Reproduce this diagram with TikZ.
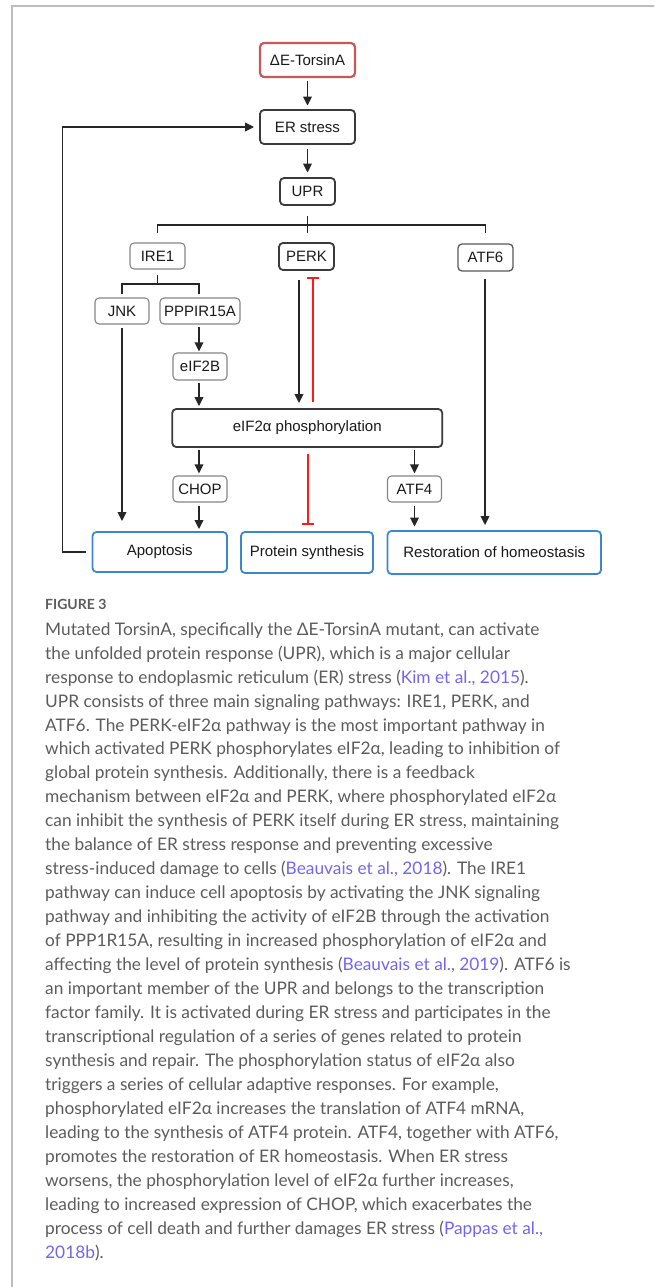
\documentclass[tikz,border=0pt]{standalone}
\usepackage{fontspec}
\usetikzlibrary{arrows.meta,calc}
\newfontfamily\diagfont{Liberation Sans}
\newfontfamily\capfont{Lato}
\definecolor{frame}{HTML}{BDBDBD}
\definecolor{boxdark}{HTML}{3A3A3A}
\definecolor{boxlight}{HTML}{858585}
\definecolor{boxred}{HTML}{C9585A}
\definecolor{boxblue}{HTML}{3B87CC}
\definecolor{inhred}{HTML}{FF1A1A}
\definecolor{captxt}{HTML}{5C5C5C}
\definecolor{caplink}{HTML}{7366F0}
\definecolor{arrcol}{HTML}{262626}
\tikzset{
  bx/.style={draw, rounded corners=4pt, inner sep=0pt, align=center,
    font=\diagfont\fontsize{15}{17}\selectfont, text=black!90},
  darkbox/.style={bx, draw=boxdark, line width=1.8pt},
  lightbox/.style={bx, draw=boxlight, line width=1.1pt},
  redbox/.style={bx, draw=boxred, line width=2.2pt},
  bluebox/.style={bx, draw=boxblue, line width=1.8pt},
  arr/.style={draw=arrcol, line width=1.8pt, -{Triangle[length=9pt,width=8.5pt]}},
  ln/.style={draw=arrcol, line width=1.8pt},
  inh/.style={draw=inhred, line width=2pt, -{Bar[width=12pt,line width=2pt]}},
  capline/.style={anchor=mid west, inner sep=0pt, text=captxt,
    font=\capfont\fontsize{17.3}{20}\selectfont},
}
\newcommand{\lk}[1]{\textcolor{caplink}{#1}}
\begin{document}
\begin{tikzpicture}[x=1pt,y=-1pt]
\useasboundingbox (0,0) rectangle (654,1287);
% frame
\draw[frame, line width=1.2pt] (12,1287) -- (12,6) -- (654,6);

% nodes
\node[redbox, minimum width=95pt, minimum height=34pt] (tor) at (307.5,60) {ΔE-TorsinA};
\node[darkbox, minimum width=95pt, minimum height=34pt] (er) at (307.5,127) {ER stress};
\node[darkbox, minimum width=55pt, minimum height=27pt] (upr) at (307.5,191.5) {UPR};
\node[lightbox, minimum width=55pt, minimum height=26pt] (ire1) at (157.5,256) {IRE1};
\node[darkbox, minimum width=55pt, minimum height=27pt] (perk) at (306.5,256.5) {PERK};
\node[darkbox, draw=boxdark!85, line width=1.3pt, minimum width=55pt, minimum height=27pt] (atf6) at (485.5,257.5) {ATF6};
\node[lightbox, minimum width=54pt, minimum height=26pt] (jnk) at (122,311) {JNK};
\node[lightbox, minimum width=80pt, minimum height=26pt] (ppp) at (200,311) {PPPIR15A};
\node[lightbox, minimum width=54pt, minimum height=27pt] (eif2b) at (200,366.5) {eIF2B};
\node[darkbox, minimum width=270pt, minimum height=38pt] (eif2a) at (307.25,428) {eIF2α phosphorylation};
\node[lightbox, minimum width=54pt, minimum height=26pt] (chop) at (200,489) {CHOP};
\node[lightbox, minimum width=54pt, minimum height=26pt] (atf4) at (414.5,489) {ATF4};
\node[bluebox, minimum width=134.5pt, minimum height=40pt] (apop) at (159.75,552) {Apoptosis};
\node[bluebox, minimum width=132pt, minimum height=41pt] (prot) at (307,552.5) {Protein synthesis};
\node[bluebox, minimum width=213.5pt, minimum height=43pt] (rest) at (494.25,552.5) {Restoration of homeostasis};

% helper x positions
\coordinate (xA) at (299,0);
\coordinate (xB) at (312.5,0);
\coordinate (xC) at (199,0);
\coordinate (xD) at (122,0);
\coordinate (xE) at (414.5,0);
\coordinate (xF) at (485,0);
\coordinate (xG) at (307.5,0);
\coordinate (xL) at (62.5,0);
\coordinate (br) at (307.5,225);
\coordinate (br2) at (157.5,284);

% main chain
\draw[arr, shorten <=3pt, shorten >=3.5pt] (tor.south) -- (er.north);
\draw[arr, shorten <=4pt, shorten >=4.5pt] (er.south) -- (upr.north);

% UPR fork
\draw[ln] ([yshift=-10pt]upr.south) -- ([yshift=9pt]upr.south |- perk.north);
\draw[ln] ([yshift=9pt]ire1.north) -- (ire1.north |- br) -- (atf6.north |- br) -- ([yshift=10pt]atf6.north);

% IRE1 fork
\draw[ln] ([yshift=-5pt]ire1.south) -- (br2);
\draw[ln] ([yshift=3pt]jnk.north) -- (jnk.north |- br2) -- (xC |- br2) -- ([yshift=3pt]ppp.north -| xC);

% PERK <-> eIF2a
\draw[arr, shorten <=9pt, shorten >=5pt] (perk.south -| xA) -- (eif2a.north -| xA);
\draw[inh, shorten <=6pt, shorten >=6pt] (eif2a.north -| xB) -- (perk.south -| xB);

% IRE1 branch arrows
\draw[arr, shorten <=2pt, shorten >=1pt] (ppp.south -| xC) -- (eif2b.north -| xC);
\draw[arr, shorten <=2pt, shorten >=2pt] (eif2b.south -| xC) -- (eif2a.north -| xC);
\draw[arr, shorten <=2pt, shorten >=2pt] (eif2a.south -| xC) -- (chop.north -| xC);
\draw[arr, shorten <=3pt, shorten >=2pt] (chop.south -| xC) -- (apop.north -| xC);
\draw[arr, shorten <=3pt, shorten >=10pt] (jnk.south -| xD) -- (apop.north -| xD);

% eIF2a outputs
\draw[inh, shorten <=6pt, shorten >=6pt] (eif2a.south -| xG) -- (prot.north -| xG);
\draw[arr, shorten <=2pt, shorten >=2pt] (eif2a.south -| xE) -- (atf4.north -| xE);
\draw[arr, shorten <=3pt, shorten >=3.5pt] (atf4.south -| xE) -- (rest.north -| xE);
\draw[arr, shorten <=7pt, shorten >=5pt] (atf6.south -| xF) -- (rest.north -| xF);

% feedback
\draw[arr, shorten >=5pt] ([xshift=-6pt]apop.west) -- (apop.west -| xL) -- (er.west -| xL) -- (er.west);

% caption
\node[anchor=mid west, inner sep=0pt, text=captxt, font=\capfont\bfseries\fontsize{14}{16}\selectfont] (fig) at (45,607) {FIGURE 3};
\foreach \i/\t in {
 0/{Mutated TorsinA, specifically the ΔE-TorsinA mutant, can activate},
 1/{the unfolded protein response (UPR), which is a major cellular},
 2/{response to endoplasmic reticulum (ER) stress (\lk{Kim et al., 2015}).},
 3/{UPR consists of three main signaling pathways: IRE1, PERK, and},
 4/{ATF6. The PERK-eIF2α pathway is the most important pathway in},
 5/{which activated PERK phosphorylates eIF2α, leading to inhibition of},
 6/{global protein synthesis. Additionally, there is a feedback},
 7/{mechanism between eIF2α and PERK, where phosphorylated eIF2α},
 8/{can inhibit the synthesis of PERK itself during ER stress, maintaining},
 9/{the balance of ER stress response and preventing excessive},
 10/{stress-induced damage to cells (\lk{Beauvais et al., 2018}). The IRE1},
 11/{pathway can induce cell apoptosis by activating the JNK signaling},
 12/{pathway and inhibiting the activity of eIF2B through the activation},
 13/{of PPP1R15A, resulting in increased phosphorylation of eIF2α and},
 14/{affecting the level of protein synthesis (\lk{Beauvais et al., 2019}). ATF6 is},
 15/{an important member of the UPR and belongs to the transcription},
 16/{factor family. It is activated during ER stress and participates in the},
 17/{transcriptional regulation of a series of genes related to protein},
 18/{synthesis and repair. The phosphorylation status of eIF2α also},
 19/{triggers a series of cellular adaptive responses. For example,},
 20/{phosphorylated eIF2α increases the translation of ATF4 mRNA,},
 21/{leading to the synthesis of ATF4 protein. ATF4, together with ATF6,},
 22/{promotes the restoration of ER homeostasis. When ER stress},
 23/{worsens, the phosphorylation level of eIF2α further increases,},
 24/{leading to increased expression of CHOP, which exacerbates the},
 25/{process of cell death and further damages ER stress (\lk{Pappas et al.,}},
 26/{\lk{2018b}).}}
{\node[capline] (cap\i) at (45,{633+23.96*\i}) {\t};}
\end{tikzpicture}
\end{document}
